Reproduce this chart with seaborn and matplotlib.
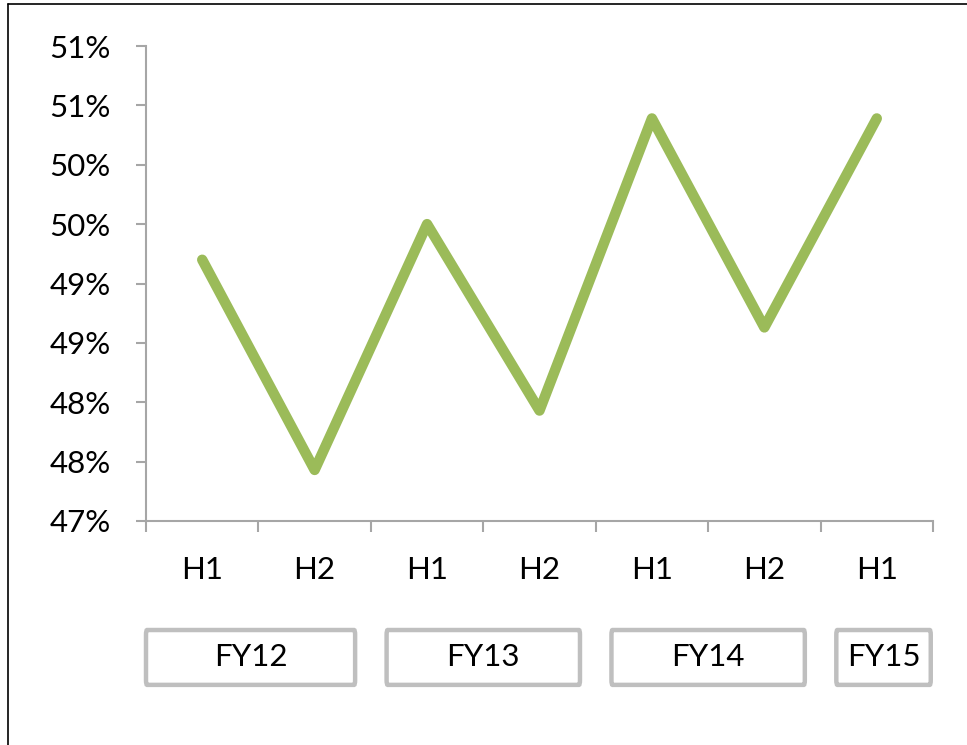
import matplotlib
matplotlib.use("Agg")
import matplotlib.pyplot as plt
import seaborn as sns
import pandas as pd
from matplotlib.patches import FancyBboxPatch
from matplotlib.lines import Line2D
from matplotlib.ticker import FuncFormatter, FixedLocator

halves = ["H1", "H2", "H1", "H2", "H1", "H2", "H1"]
values = [49.2, 47.43, 49.5, 47.93, 50.39, 48.63, 50.39]
years = ["FY12", "FY13", "FY14", "FY15"]
year_spans = [2, 2, 2, 1]
y_ticks = [47.0, 47.5, 48.0, 48.5, 49.0, 49.5, 50.0, 50.5, 51.0]

sns.set_style("white")
plt.rcParams["font.family"] = ["Lato", "DejaVu Sans"]
plt.rcParams["text.color"] = "black"
plt.rcParams["xtick.color"] = "black"
plt.rcParams["ytick.color"] = "black"

FS = 22.5

df = pd.DataFrame({"idx": range(len(values)), "value": values})

fig = plt.figure(figsize=(9.67, 7.45), dpi=100)
ax = fig.add_axes([146 / 967, 1 - 521 / 745, (933 - 146) / 967, (521 - 46) / 745])

sns.lineplot(data=df, x="idx", y="value", ax=ax, color="#9BBB59", linewidth=7.5,
             solid_capstyle="round", solid_joinstyle="round")

n = len(values)
ax.set_xlim(-0.5, n - 0.5)
ax.set_ylim(y_ticks[0], y_ticks[-1])
ax.set_xlabel("")
ax.set_ylabel("")

grey = "#A6A6A6"
for s in ["top", "right"]:
    ax.spines[s].set_visible(False)
for s in ["left", "bottom"]:
    ax.spines[s].set_color(grey)
    ax.spines[s].set_linewidth(1.5)

ax.yaxis.set_major_locator(FixedLocator(y_ticks))
ax.yaxis.set_major_formatter(FuncFormatter(lambda v, p: f"{int(v + 0.5 + 1e-9)}%"))
ax.tick_params(axis="y", which="major", length=7.5, width=1.5, color=grey,
               labelsize=FS, labelcolor="black", pad=18, left=True)

ax.xaxis.set_major_locator(FixedLocator([i - 0.5 for i in range(n + 1)]))
ax.xaxis.set_major_formatter(FuncFormatter(lambda v, p: ""))
ax.set_xticks(list(range(n)), labels=halves, minor=True)
ax.tick_params(axis="x", which="major", length=8, width=1.5, color=grey, bottom=True)
ax.tick_params(axis="x", which="minor", length=0, labelsize=FS, labelcolor="black", pad=25)

# group boxes
start = 0
for k, (yr, span) in enumerate(zip(years, year_spans)):
    x0 = start - 0.5 + (0.0 if k == 0 else 0.14)
    x1 = start + span - 0.5 - (0.0 if k == len(years) - 1 else 0.14)
    if k == len(years) - 1:
        x1 = start + span - 0.52
    y0, y1 = -0.345, -0.2295
    box = FancyBboxPatch((x0, y0), x1 - x0, y1 - y0,
                         boxstyle="round,pad=0,rounding_size=0.01",
                         transform=ax.get_xaxis_transform(), clip_on=False,
                         facecolor="white", edgecolor="#BFBFBF", linewidth=3.2)
    ax.add_patch(box)
    ax.text((x0 + x1) / 2, (y0 + y1) / 2, yr, transform=ax.get_xaxis_transform(),
            ha="center", va="center", fontsize=FS, color="black", clip_on=False)
    start += span

# figure frame lines (left and top)
fig.add_artist(Line2D([7.5 / 967, 7.5 / 967], [0, 1 - 4 / 745], transform=fig.transFigure,
                      color="black", linewidth=1.2))
fig.add_artist(Line2D([7.5 / 967, 1], [1 - 4 / 745, 1 - 4 / 745], transform=fig.transFigure,
                      color="black", linewidth=1.2))

fig.savefig("out.png", dpi=100)
